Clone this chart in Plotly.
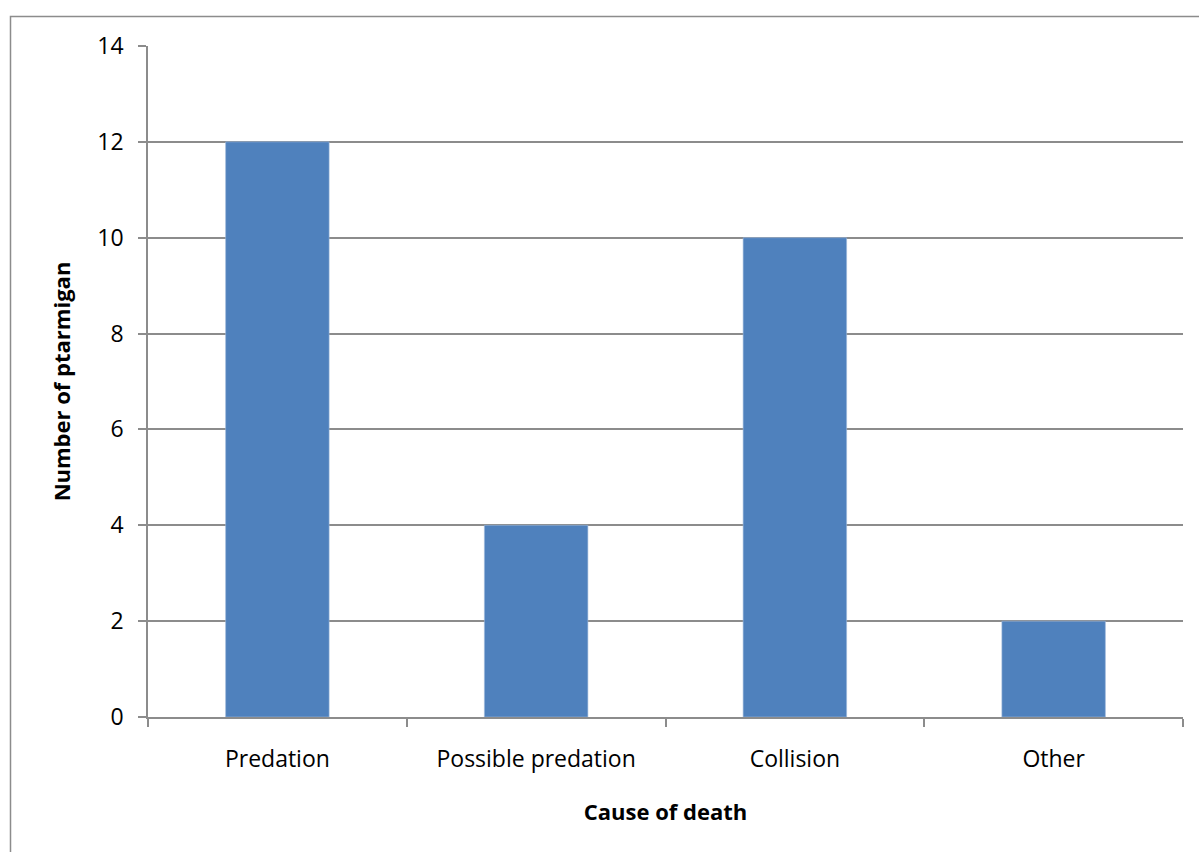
import plotly.graph_objects as go

categories = ["Predation", "Possible predation", "Collision", "Other"]
counts = [12, 4, 10, 2]
y_ticks = [0, 2, 4, 6, 8, 10, 12, 14]

W, H = 1199, 852
L, R, T, B = 148, 16, 46, 135
pw = W - L - R
ph = H - T - B

font_family = "'Open Sans', sans-serif"
grid = "#8c8c8c"

fig = go.Figure(go.Bar(
    x=categories, y=counts,
    marker=dict(color="#4F81BD", line=dict(color="#9DB8DC", width=0.6)),
    width=0.4,
))

fig.update_layout(
    width=W, height=H,
    margin=dict(l=L, r=R, t=T, b=B),
    paper_bgcolor="white", plot_bgcolor="white",
    showlegend=False,
    font=dict(family=font_family, size=22, color="black"),
    shapes=[dict(type="rect", xref="paper", yref="paper",
                 x0=(10.5 - L) / pw, x1=1.2, y0=-0.5, y1=1 + (T - 16.5) / ph,
                 line=dict(color="#8c8c8c", width=1.5), fillcolor="rgba(0,0,0,0)",
                 layer="below")],
)
fig.update_xaxes(
    showline=True, linecolor=grid, linewidth=1.5,
    ticks="outside", tickson="boundaries", ticklen=8, tickcolor=grid, tickwidth=1.5,
    showgrid=False,
    title=dict(text="<b>Cause of death</b>", font=dict(size=22), standoff=31),
    tickfont=dict(size=23),
    ticklabelstandoff=21,
)
fig.update_yaxes(
    range=[0, 14], tickvals=y_ticks,
    showline=True, linecolor=grid, linewidth=1.5,
    ticks="outside", ticklen=8, tickcolor=grid, tickwidth=1.5,
    showgrid=True, gridcolor=grid, gridwidth=1.5,
    zeroline=False,
    title=dict(text="<b>Number of ptarmigan</b>", font=dict(size=22), standoff=21),
    tickfont=dict(size=23),
    ticklabelstandoff=10,
)

fig.write_html("out.html", config={"displayModeBar": False},
               post_script="document.body.style.margin='0';document.body.style.overflow='hidden';")
